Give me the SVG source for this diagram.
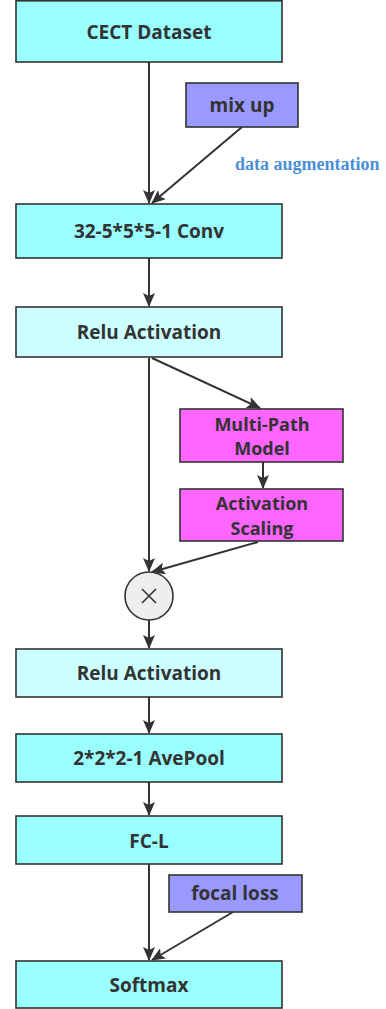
<svg xmlns="http://www.w3.org/2000/svg" width="386" height="1009" viewBox="0 0 386 1009">
  <style>
    .box { stroke: #333; stroke-width: 1.6; }
    .main { fill: #99ffff; }
    .relu { fill: #ccffff; }
    .aux { fill: #9999ff; }
    .mp { fill: #ff66ff; }
    .lbl { font-family: "Open Sans", "Noto Sans", sans-serif; font-weight: bold; font-size: 19px; fill: #333; text-anchor: middle; dominant-baseline: central; }
    .two { font-size: 18px; }
    .edge { stroke: #333; stroke-width: 2; fill: none; marker-end: url(#arrow); }
    .note { font-family: "Liberation Serif", serif; font-weight: bold; font-size: 18px; fill: #4a8fd8; }
  </style>
  <defs>
    <marker id="arrow" viewBox="0 0 14 12" refX="13" refY="6" markerWidth="14" markerHeight="12" markerUnits="userSpaceOnUse" orient="auto">
      <path d="M0,0 L14,6 L0,12 L3,6 Z" fill="#333"/>
    </marker>
  </defs>
  <rect width="386" height="1009" fill="#fff"/>

  <g id="connectors">
    <line class="edge" x1="149" y1="62" x2="149" y2="203"/>
    <line class="edge" x1="242" y1="127" x2="152" y2="203"/>
    <line class="edge" x1="149" y1="258" x2="149" y2="306"/>
    <line class="edge" x1="152" y1="358" x2="260" y2="408"/>
    <line class="edge" x1="263" y1="462" x2="263" y2="488"/>
    <line class="edge" x1="149" y1="358" x2="149" y2="571"/>
    <line class="edge" x1="258" y1="542" x2="152" y2="572"/>
    <line class="edge" x1="149" y1="620" x2="149" y2="648"/>
    <line class="edge" x1="149" y1="697" x2="149" y2="733"/>
    <line class="edge" x1="149" y1="782" x2="149" y2="815"/>
    <line class="edge" x1="149" y1="864" x2="149" y2="960"/>
    <line class="edge" x1="233" y1="912" x2="152" y2="960"/>
  </g>

  <g id="cect">
    <rect class="box main" x="16" y="0.8" width="266" height="61.2"/>
    <text class="lbl" x="149" y="32">CECT Dataset</text>
  </g>
  <g id="mixup">
    <rect class="box aux" x="186" y="83" width="112" height="44"/>
    <text class="lbl" x="242" y="105">mix up</text>
  </g>
  <text class="note" x="235" y="170">data augmentation</text>
  <g id="conv">
    <rect class="box main" x="16" y="204" width="266" height="54"/>
    <text class="lbl" x="149" y="231">32-5*5*5-1 Conv</text>
  </g>
  <g id="relu1">
    <rect class="box relu" x="16" y="307" width="266" height="50"/>
    <text class="lbl" x="149" y="332">Relu Activation</text>
  </g>
  <g id="multipath">
    <rect class="box mp" x="180" y="409" width="163" height="53"/>
    <text class="lbl two" x="262" y="423.5">Multi-Path</text>
    <text class="lbl two" x="262" y="448">Model</text>
  </g>
  <g id="scaling">
    <rect class="box mp" x="180" y="489" width="163" height="52"/>
    <text class="lbl two" x="262" y="503">Activation</text>
    <text class="lbl two" x="262" y="527.5">Scaling</text>
  </g>
  <g id="multiply">
    <circle cx="149" cy="596" r="24" fill="#eeeeee" stroke="#333" stroke-width="1.6"/>
    <path d="M142,589 L156,603 M156,589 L142,603" stroke="#333" stroke-width="1.6"/>
  </g>
  <g id="relu2">
    <rect class="box relu" x="16" y="649" width="266" height="48"/>
    <text class="lbl" x="149" y="673">Relu Activation</text>
  </g>
  <g id="avepool">
    <rect class="box main" x="16" y="734" width="266" height="48"/>
    <text class="lbl" x="149" y="758">2*2*2-1 AvePool</text>
  </g>
  <g id="fcl">
    <rect class="box main" x="16" y="816" width="266" height="48"/>
    <text class="lbl" x="149" y="841">FC-L</text>
  </g>
  <g id="focal">
    <rect class="box aux" x="169" y="875" width="133" height="37"/>
    <text class="lbl" x="235" y="893">focal loss</text>
  </g>
  <g id="softmax">
    <rect class="box main" x="16" y="961" width="266" height="47"/>
    <text class="lbl" x="149" y="985">Softmax</text>
  </g>
</svg>
